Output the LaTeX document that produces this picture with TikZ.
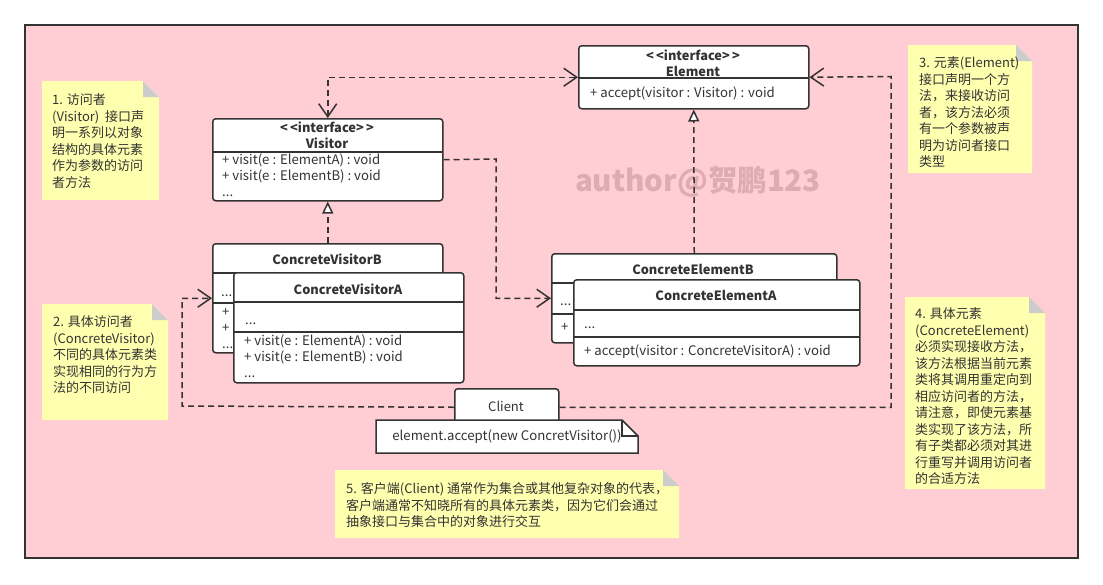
\documentclass[tikz,border=0pt]{standalone}
\usepackage{fontspec}
\setmainfont{Noto Sans CJK SC}
\usetikzlibrary{arrows.meta,positioning}

\definecolor{bgpink}{RGB}{255,205,212}
\definecolor{notey}{RGB}{255,255,176}
\definecolor{foldg}{RGB}{204,204,204}
\definecolor{ink}{RGB}{51,51,51}
\definecolor{wmark}{RGB}{221,172,178}

\begin{document}
\begin{tikzpicture}[x=1pt,y=-1pt,
    ln/.style={line width=1.5pt, draw=ink},
    cls/.style={ln, fill=white, rounded corners=3pt, inner sep=0pt, anchor=north west},
    ttl/.style={inner sep=0pt, text=ink, font=\fontsize{12.8}{16}\selectfont\bfseries},
    ops/.style={inner sep=0pt, text=ink, align=left, anchor=north west, font=\fontsize{13.2}{16}\selectfont},
    notetxt/.style={inner sep=0pt, text=ink, align=left, anchor=north west, font=\fontsize{13}{16.5}\selectfont},
    dep/.style={ln, dash pattern=on 6pt off 4pt},
    real/.style={dep, -{Triangle[open, length=12pt, width=11pt, fill=white]}},
    >={Straight Barb[length=13pt, width=18pt]}
  ]
  \useasboundingbox (0,0) rectangle (1103,584);
  \draw[ln, fill=bgpink] (25,25) rectangle (1078,558);

  % sticky notes
  \foreach \xa/\ya/\xb/\yb in {42/81/159/200, 42/304/168/420, 908/45/1032/173, 905/297/1045/489, 335/470/679/538}{
    \fill[notey] (\xa,\ya) -- (\xb-16,\ya) -- (\xb,\ya+16) -- (\xb,\yb) -- (\xa,\yb) -- cycle;
    \fill[foldg] (\xb-16,\ya) -- (\xb,\ya+16) -- (\xb-16,\ya+16) -- cycle;
  }
  \node[notetxt] (note1) at (52,93) {1. 访问者\strut\\(Visitor)~ 接口声\strut\\明一系列以对象\strut\\结构的具体元素\strut\\作为参数的访问\strut\\者方法\strut};
  \node[notetxt] (note2) at (53,315) {2. 具体访问者\strut\\(ConcreteVisitor)\strut\\不同的具体元素类\strut\\实现相同的行为方\strut\\法的不同访问\strut};
  \node[notetxt] (note3) at (919,56) {3. 元素(Element)\strut\\接口声明一个方\strut\\法，来接收访问\strut\\者，该方法必须\strut\\有一个参数被声\strut\\明为访问者接口\strut\\类型\strut};
  \node[notetxt] (note4) at (915,307) {4. 具体元素\strut\\(ConcreteElement)\strut\\必须实现接收方法，\strut\\该方法根据当前元素\strut\\类将其调用重定向到\strut\\相应访问者的方法，\strut\\请注意，即使元素基\strut\\类实现了该方法，所\strut\\有子类都必须对其进\strut\\行重写并调用访问者\strut\\的合适方法\strut};
  \node[notetxt] (note5) at (346,482) {5. 客户端(Client) 通常作为集合或其他复杂对象的代表，\strut\\客户端通常不知晓所有的具体元素类，因为它们会通过\strut\\抽象接口与集合中的对象进行交互\strut};

  \node[text=wmark, font=\fontsize{29.5}{32}\selectfont\bfseries] (mark) at (698,182) {author@贺鹏123};

  % Element
  \node[cls, minimum width=230pt, minimum height=63pt] (element) at (578,45) {};
  \draw[ln] (578,78) -- (808,78);
  \node[ttl] (elementS) at (693,55) {<\,<interface>\,>};
  \node[ttl] (elementT) at (693,71) {Element};
  \node[ops] (elementO) at (590,86) {+ accept(visitor : Visitor) : void\strut};

  % Visitor
  \node[cls, minimum width=230pt, minimum height=82pt] (visitor) at (212,118) {};
  \draw[ln] (212,152) -- (442,152);
  \node[ttl] (visitorS) at (327,127) {<\,<interface>\,>};
  \node[ttl] (visitorT) at (327,143) {Visitor};
  \node[ops] (visitorO) at (222,153) {+ visit(e : ElementA) : void\strut\\+ visit(e : ElementB) : void\strut\\...\strut};

  % ConcreteVisitorB
  \node[cls, minimum width=230pt, minimum height=109pt] (cvB) at (212,243) {};
  \draw[ln] (212,273) -- (442,273);
  \draw[ln] (212,303) -- (442,303);
  \node[ttl] (cvBT) at (327,259) {ConcreteVisitorB};
  \node[ops] (cvBA) at (221,285) {...\strut};
  \node[ops] (cvBO) at (222,305) {+\strut\\+\strut\\...\strut};

  % ConcreteVisitorA
  \node[cls, minimum width=230pt, minimum height=110pt] (cvA) at (233,272) {};
  \draw[ln] (233,302) -- (463,302);
  \draw[ln] (233,332) -- (463,332);
  \node[ttl] (cvAT) at (348,289) {ConcreteVisitorA};
  \node[ops] (cvAA) at (245,313) {...\strut};
  \node[ops] (cvAO) at (244,334) {+ visit(e : ElementA) : void\strut\\+ visit(e : ElementB) : void\strut\\...\strut};

  % ConcreteElementB
  \node[cls, minimum width=285pt, minimum height=89pt] (ceB) at (551,253) {};
  \draw[ln] (551,283) -- (836,283);
  \draw[ln] (551,314) -- (836,314);
  \node[ttl] (ceBT) at (693,269) {ConcreteElementB};
  \node[ops] (ceBA) at (560,294) {...\strut};
  \node[ops] (ceBO) at (561,320) {+\strut};

  % ConcreteElementA
  \node[cls, minimum width=286pt, minimum height=86pt] (ceA) at (573,279) {};
  \draw[ln] (573,310) -- (859,310);
  \draw[ln] (573,337) -- (859,337);
  \node[ttl] (ceAT) at (716,295) {ConcreteElementA};
  \node[ops] (ceAA) at (584,317) {...\strut};
  \node[ops] (ceAO) at (584,344) {+ accept(visitor : ConcreteVisitorA) : void\strut};

  % Client
  \node[cls, minimum width=104pt, minimum height=37pt] (client) at (454,388) {};
  \node[text=ink, font=\fontsize{13}{16}\selectfont] (clientT) at (506,406) {Client};
  \filldraw[ln, fill=white] (376,420) -- (622,420) -- (638,436) -- (638,453) -- (376,453) -- cycle;
  \draw[ln] (622,420) -- (622,436) -- (638,436);
  \node[text=ink, font=\fontsize{13.2}{16}\selectfont] (call) at (507,437) {element.accept(new ConcretVisitor())};

  % connectors
  \coordinate (bendM) at (496,159);
  \coordinate (bendL) at (182,406);
  \coordinate (bendR) at (891,76.5);
  \draw[dep, <->] (visitor.north) |- (element.west);
  \draw[real] (cvB.north) -- (visitor.south);
  \draw[real] (ceB.north) -- (element.south);
  \draw[dep, ->] (visitor.east) -- (bendM) |- (ceB.west);
  \draw[dep, ->] (client.west) -- (bendL) |- (cvB.west);
  \draw[dep, ->] (client.east) -| (bendR) -- (element.east);
\end{tikzpicture}
\end{document}
